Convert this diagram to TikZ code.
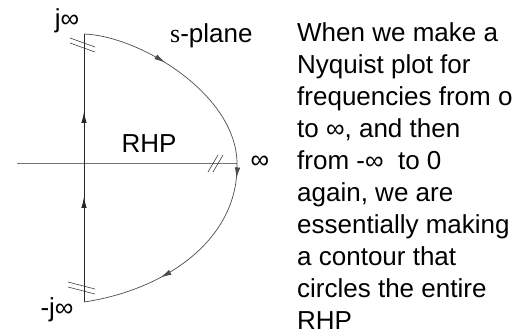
\documentclass[tikz,border=0pt]{standalone}
\usepackage{fontspec}
\setmainfont{Liberation Sans}
\newfontfamily\serifs{Liberation Serif}
\usetikzlibrary{arrows.meta,decorations.markings}
\tikzset{
  midarrow/.style={postaction={decorate,decoration={markings,
      mark=at position #1 with {\arrow{Latex[length=11pt,width=5.4pt]}}}}},
  axisline/.style={draw=black!85,line width=0.8pt},
  realaxis/.style={draw=black!55,line width=0.8pt},
  contour/.style={draw=black!70,line width=0.7pt},
  breakmark/.style={draw=black!75,line width=0.6pt},
  lbl/.style={inner sep=0pt,font=\fontsize{26}{32}\selectfont},
}
\begin{document}
\begin{tikzpicture}[x=1pt,y=-1pt]
\useasboundingbox (0,0) rectangle (532,335);

% contour corners
\coordinate (top) at (84,34);
\coordinate (bot) at (84,302);
\coordinate (east) at (237,165);
\coordinate (west) at (17,163);
\coordinate (axisend) at (237,163);

% real axis
\draw[realaxis] (west) -- (axisend);

% imaginary axis, traversed upward
\draw[axisline,midarrow=0.392,midarrow=0.709] (bot) -- (top);

% large semicircle closing the contour in the right half plane
\draw[contour,midarrow=0.40] (top) .. controls (140,36) and (238,95) .. (east);
\draw[contour,midarrow=0.06,midarrow=0.64] (east) .. controls (238,240) and (165,290) .. (bot);

% break marks
\draw[breakmark] (70,38) -- (95,47) (70,43) -- (95,52);
\draw[breakmark] (68,282) -- (95,289) (68,287) -- (95,294);
\draw[breakmark] (208,172) -- (218,155) (213,172) -- (223,155);

% labels
\node[lbl] (jinf) at (67,21) {j∞};
\node[lbl] (mjinf) at (57,310) {-j∞};
\node[lbl,anchor=base west] (splane) at (170,42) {{\serifs s}-plane};
\node[lbl] (rhp) at (149,144) {RHP};
\node[lbl] (inf) at (260,162) {∞};

% explanation
\foreach \t [count=\i from 0] in {When we make a,Nyquist plot for,frequencies from o,{to ∞, and then},from -∞\ \ to 0,{again, we are},essentially making,a contour that,circles the entire,RHP}
  \node[lbl,anchor=base west] (line\i) at (297,41+32*\i) {\t};
\end{tikzpicture}
\end{document}
